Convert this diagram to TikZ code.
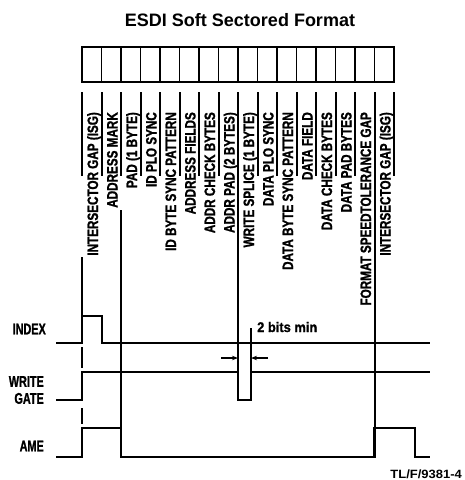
\documentclass[tikz,border=0pt]{standalone}
\usepackage{fontspec}
\setmainfont{Liberation Sans}
\newfontfamily\fldfont[FakeStretch=0.78, FakeBold=1.2]{Liberation Sans}
\newfontfamily\sigfont[FakeStretch=0.70, FakeBold=1.2]{Liberation Sans}
\newfontfamily\notefont[FakeStretch=0.92, FakeBold=1]{Liberation Sans}
\newfontfamily\tagfont[FakeStretch=1.08]{Liberation Sans}
\usetikzlibrary{arrows.meta}
\tikzset{
  ttl/.style    = {inner sep=0pt, font=\bfseries\fontsize{18}{18}\selectfont},
  cellbox/.style= {draw, line width=1.8pt},
  frame/.style  = {draw, line width=2.6pt},
  comb/.style   = {line width=2pt},
  fld/.style    = {rotate=90, anchor=base east, inner sep=0pt,
                   font=\fldfont\bfseries\fontsize{15}{15}\selectfont},
  sig/.style    = {anchor=east, inner sep=0pt, align=right,
                   font=\sigfont\bfseries\fontsize{15.5}{17}\selectfont},
  wave/.style   = {line width=2.5pt, line join=miter},
  tline/.style  = {line width=2pt},
  dimarr/.style = {-{Stealth[length=6pt, width=4.5pt]}, line width=1.2pt},
  note/.style   = {anchor=west, inner sep=0pt,
                   font=\notefont\bfseries\fontsize{14}{14}\selectfont},
  tag/.style    = {anchor=east, inner sep=0pt,
                   font=\tagfont\bfseries\fontsize{12}{12}\selectfont},
}
\begin{document}
\begin{tikzpicture}[x=1pt, y=-1pt]
  \useasboundingbox (0,0) rectangle (465,480);
  \node[ttl] (title) at (240,20) {ESDI Soft Sectored Format};

  \foreach \k in {0,...,15}
    \draw[cellbox] ({82+19.5*\k},47) rectangle ++(19.5,35);
  \draw[frame] (82,47) rectangle (394,82);
  \foreach \k in {0,...,16}
    \draw[comb] ({82+19.5*\k},92) -- ({82+19.5*\k},176);

  \foreach \txt [count=\k from 0] in {INTERSECTOR GAP (ISG), ADDRESS MARK,
      PAD (1 BYTE), ID PLO SYNC, ID BYTE SYNC PATTERN, ADDRESS FIELDS,
      ADDR CHECK BYTES, ADDR PAD (2 BYTES), WRITE SPLICE (1 BYTE),
      DATA PLO SYNC, DATA BYTE SYNC PATTERN, DATA FIELD, DATA CHECK BYTES,
      DATA PAD BYTES, FORMAT SPEEDTOLERANCE GAP, INTERSECTOR GAP (ISG)}
    \node[fld] (f\k) at ({82+19.5*\k+16},112) {\txt};

  \node[sig] (index) at (46,329) {INDEX};
  \node[sig] (wgate) at (44,390) {WRITE\\GATE};
  \node[sig] (ame)   at (44,446) {AME};

  \draw[wave] (56,343) -- (82,343) -- (82,316) -- (102,316) -- (102,343) -- (430,343);
  \draw[wave] (56,400) -- (82,400) -- (82,372) -- (238,372) -- (238,400)
    -- (251,400) -- (251,372) -- (430,372);
  \draw[wave] (56,457) -- (82,457) -- (82,428) -- (121,428) -- (121,457)
    -- (374.5,457) -- (374.5,428) -- (415,428) -- (415,457) -- (430,457);

  \draw[tline] (82,257) -- (82,316);
  \draw[tline] (82,347) -- (82,368);
  \draw[tline] (82,408) -- (82,424);
  \draw[tline] (121,210) -- (121,428);
  \draw[tline] (238,176) -- (238,372);
  \draw[tline] (374.5,176) -- (374.5,428);
  \draw[tline] (251,328) -- (251,372);

  \coordinate (wsl) at (238,358);
  \coordinate (wsr) at (251,358);
  \coordinate (al) at (221,358);
  \coordinate (ar) at (268,358);
  \draw[dimarr] (al) -- (wsl);
  \draw[dimarr] (ar) -- (wsr);
  \node[note] (bits) at (257,327) {2 bits min};

  \node[tag] (fig) at (462,474) {TL/F/9381-4};
\end{tikzpicture}
\end{document}
